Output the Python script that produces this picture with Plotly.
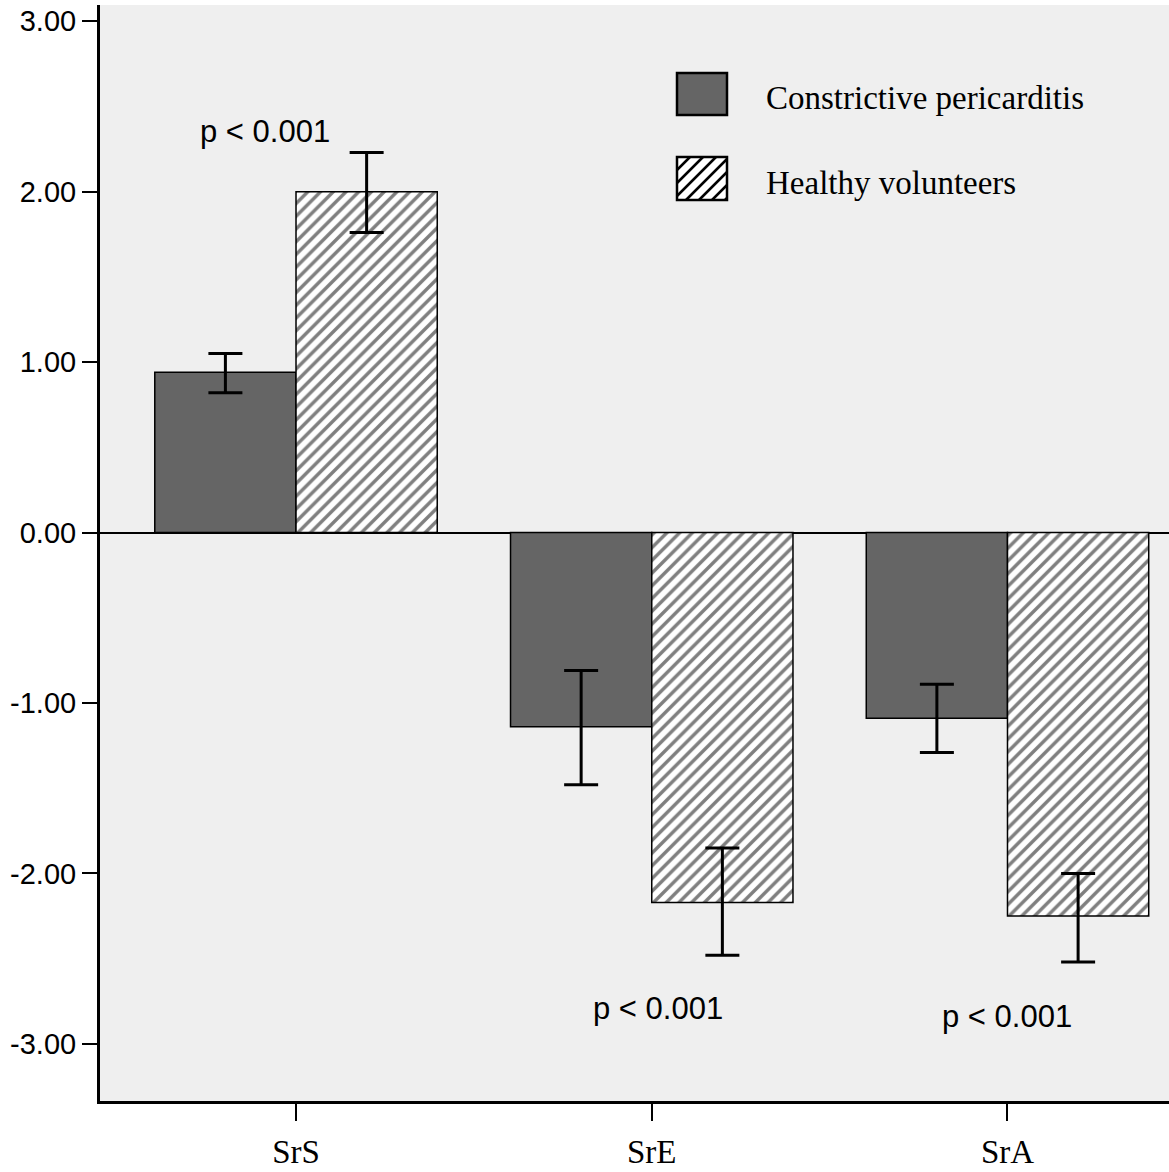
import plotly.graph_objects as go

# ---- data ----
categories = ["SrS", "SrE", "SrA"]
series_names = ["Constrictive pericarditis", "Healthy volunteers"]
cp_values = [0.94, -1.14, -1.09]
cp_err_upper = [1.05, -0.81, -0.89]
cp_err_lower = [0.82, -1.48, -1.29]
hv_values = [2.00, -2.17, -2.25]
hv_err_upper = [2.23, -1.85, -2.00]
hv_err_lower = [1.76, -2.48, -2.52]
y_ticks = [-3, -2, -1, 0, 1, 2, 3]
p_labels = ["p < 0.001", "p < 0.001", "p < 0.001"]

W, H = 1169, 1172
L, R, T, B = 100, 0, 5, 71
PW, PH = W - L - R, H - T - B


def px(x):
    return (x - L) / PW


def py(y):
    return 1 - (y - T) / PH


fig = go.Figure()

fig.add_trace(go.Bar(
    x=categories, y=cp_values, name=series_names[0], showlegend=False,
    marker=dict(color="#656565", line=dict(color="black", width=1.5)),
    error_y=dict(type="data", symmetric=False,
                 array=[u - v for u, v in zip(cp_err_upper, cp_values)],
                 arrayminus=[v - l for v, l in zip(cp_values, cp_err_lower)],
                 color="black", thickness=3, width=17),
))
fig.add_trace(go.Bar(
    x=categories, y=hv_values, name=series_names[1], showlegend=False,
    marker=dict(color="white", line=dict(color="black", width=1.5),
                pattern=dict(shape="/", fgcolor="black", bgcolor="white",
                             size=9, solidity=0.38)),
    error_y=dict(type="data", symmetric=False,
                 array=[u - v for u, v in zip(hv_err_upper, hv_values)],
                 arrayminus=[v - l for v, l in zip(hv_values, hv_err_lower)],
                 color="black", thickness=3, width=17),
))

# p-value annotations
p_pos = [(-0.087, 2.35), (1.017, -2.79), (2.0, -2.84)]
annotations = []
for (ax_, ay_), t in zip(p_pos, p_labels):
    annotations.append(dict(x=ax_, y=ay_, xref="x", yref="y", text=t,
                            showarrow=False,
                            font=dict(family="Liberation Sans", size=31, color="black")))

# custom legend
shapes = []
shapes.append(dict(type="rect", xref="paper", yref="paper",
                   x0=px(677), x1=px(727), y0=py(115), y1=py(73),
                   fillcolor="#656565", line=dict(color="black", width=2.5)))
bx0, bx1, by0, by1 = 677, 727, 157, 200
shapes.append(dict(type="rect", xref="paper", yref="paper",
                   x0=px(bx0), x1=px(bx1), y0=py(by1), y1=py(by0),
                   fillcolor="white", line=dict(color="black", width=2.5)))
k = bx0 + by0 + 13
while k < bx1 + by1:
    xa = max(bx0, k - by1)
    xb = min(bx1, k - by0)
    if xb > xa:
        shapes.append(dict(type="line", xref="paper", yref="paper",
                           x0=px(xa), y0=py(k - xa), x1=px(xb), y1=py(k - xb),
                           line=dict(color="black", width=2.5)))
    k += 13

for name, yc in zip(series_names, [98, 183]):
    annotations.append(dict(x=px(764), y=py(yc), xref="paper", yref="paper",
                            xanchor="left", yanchor="middle", text=name,
                            showarrow=False,
                            font=dict(family="Liberation Serif", size=33, color="black")))

fig.update_layout(
    width=W, height=H,
    margin=dict(l=L, r=R, t=T, b=B, pad=0),
    paper_bgcolor="white", plot_bgcolor="#efefef",
    barmode="group", bargap=0.206, bargroupgap=0,
    showlegend=False,
    annotations=annotations, shapes=shapes,
)
fig.update_xaxes(
    range=[-0.551, 2.454], showgrid=False, zeroline=False,
    showline=True, linecolor="black", linewidth=3,
    ticks="outside", ticklen=17, tickwidth=2, tickcolor="black",
    ticklabelstandoff=2,
    tickfont=dict(family="Liberation Serif", size=33, color="black"),
)
fig.update_yaxes(
    range=[-3.335, 3.095], tickvals=y_ticks,
    ticktext=[f"{v:.2f}" for v in y_ticks],
    showgrid=False, zeroline=True, zerolinecolor="black", zerolinewidth=2,
    showline=True, linecolor="black", linewidth=3,
    ticks="outside", ticklen=15, tickwidth=2, tickcolor="black",
    tickfont=dict(family="Liberation Sans", size=29, color="black"),
)

fig.write_html("out.html")
